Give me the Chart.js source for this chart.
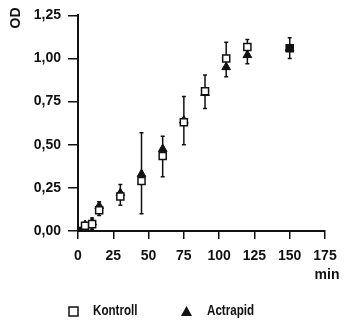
<!DOCTYPE html>
<html>
<head>
<meta charset="utf-8">
<script src="https://cdn.jsdelivr.net/npm/chart.js@4/dist/chart.umd.min.js"></script>
<style>
  body { margin: 0; background: #fff; }
  #wrap { position: relative; width: 350px; height: 329px; }
  .leg { position: absolute; top: 302px; font: bold 14px 'Liberation Sans', Arial, sans-serif; color: #111;
         transform: scaleX(0.83); transform-origin: left center; }
</style>
</head>
<body>
<div id="wrap">
  <canvas id="odChart"></canvas>
  <div class="leg" style="left:93px">Kontroll</div>
  <div class="leg" style="left:207px">Actrapid</div>
</div>
<script>
// sampling times (min)
const times    = [0, 5, 10, 15, 30, 45, 60, 75, 90, 105, 120, 150];
const kontroll = [0, 0.03, 0.04, 0.12, 0.20, 0.29, 0.435, 0.63, 0.81, 1.00, 1.067, 1.06];
const actrapid = [0, 0.035, 0.05, 0.145, 0.22, 0.33, 0.475, 0.64, 0.80, 0.95, 1.02, 1.06];
const errLow   = [0, 0.02, 0.01, 0.09, 0.15, 0.10, 0.315, 0.50, 0.71, 0.895, 0.97, 1.00];
const errHigh  = [0, 0.04, 0.075, 0.17, 0.27, 0.57, 0.55, 0.78, 0.905, 1.095, 1.11, 1.12];
const yTicks = [0, 0.25, 0.5, 0.75, 1, 1.25];
const xTicks = [0, 25, 50, 75, 100, 125, 150, 175];

const FONT = "'Liberation Sans', Arial, sans-serif";

function pts(ys){ return times.map((t,i)=>({x:t, y:ys[i]})); }

// error bars + axis unit text, drawn via the chart's own scales
const extras = {
  id: 'extras',
  beforeDatasetsDraw(chart){
    const {ctx, scales:{x, y}} = chart;
    ctx.save();
    ctx.strokeStyle = '#111';
    ctx.lineWidth = 1.5;
    times.forEach((t,i)=>{
      if (errHigh[i] - errLow[i] <= 0) return;
      const px = x.getPixelForValue(t);
      const y1 = y.getPixelForValue(errLow[i]), y2 = y.getPixelForValue(errHigh[i]);
      ctx.beginPath();
      ctx.moveTo(px, y1); ctx.lineTo(px, y2);
      ctx.moveTo(px-2, y1); ctx.lineTo(px+2, y1);
      ctx.moveTo(px-2, y2); ctx.lineTo(px+2, y2);
      ctx.stroke();
    });
    ctx.restore();
  },
  afterDraw(chart){
    const {ctx, scales:{x}} = chart;
    ctx.save();
    ctx.fillStyle = '#111';
    ctx.font = 'bold 14px ' + FONT;
    ctx.textAlign = 'center';
    ctx.textBaseline = 'middle';
    ctx.fillText('min', x.right + 2, 275);
    ctx.save();
    ctx.translate(16, 18);
    ctx.rotate(-Math.PI/2);
    ctx.fillText('OD', 0, 0);
    ctx.restore();
    // legend markers
    ctx.lineWidth = 1.5;
    ctx.strokeStyle = '#111';
    ctx.fillStyle = '#fff';
    ctx.fillRect(69, 307, 9, 9); ctx.strokeRect(69, 307, 9, 9);
    ctx.fillStyle = '#111';
    ctx.beginPath(); ctx.moveTo(186.5, 306); ctx.lineTo(192, 316); ctx.lineTo(181, 316); ctx.closePath(); ctx.fill();
    ctx.restore();
  }
};

new Chart(document.getElementById('odChart'), {
  type: 'scatter',
  data: {
    datasets: [
      { label: 'Kontroll', data: pts(kontroll), order: 1,
        pointStyle: 'rect', pointRadius: 5, pointBorderWidth: 1.5,
        borderColor: '#111',
        pointBackgroundColor: times.map((t,i)=> (i===0 || t===150) ? '#111' : '#fff') },
      { label: 'Actrapid', data: pts(actrapid), order: 2,
        pointStyle: 'triangle', pointRadius: 5, pointBorderWidth: 1,
        borderColor: '#111', backgroundColor: '#111' }
    ]
  },
  options: {
    responsive: true,
    maintainAspectRatio: false,
    animation: false,
    layout: { padding: { top: 13, right: 25, bottom: 0, left: 0 } },
    plugins: { legend: { display: false }, tooltip: { enabled: false } },
    scales: {
      x: {
        type: 'linear', min: 0, max: 175,
        afterBuildTicks: s => { s.ticks = xTicks.map(v=>({value:v})); },
        afterFit: s => { s.height = 98; },
        grid: { drawOnChartArea: false, drawTicks: true, tickLength: 8, color: '#111', lineWidth: 1.5 },
        border: { display: true, color: '#111', width: 2 },
        ticks: { color: '#111', padding: 9, font: { family: FONT, size: 14, weight: 'bold' }, maxRotation: 0 }
      },
      y: {
        type: 'linear', min: 0, max: 1.25,
        afterBuildTicks: s => { s.ticks = yTicks.map(v=>({value:v})); },
        afterFit: s => { s.width = 78; },
        grid: { drawOnChartArea: false, drawTicks: true, tickLength: 10, color: '#111', lineWidth: 1.5 },
        border: { display: true, color: '#111', width: 2 },
        ticks: { color: '#111', padding: 7, font: { family: FONT, size: 14, weight: 'bold' },
                 callback: v => v.toFixed(2).replace('.', ',') }
      }
    }
  },
  plugins: [extras]
});
</script>
</body>
</html>
